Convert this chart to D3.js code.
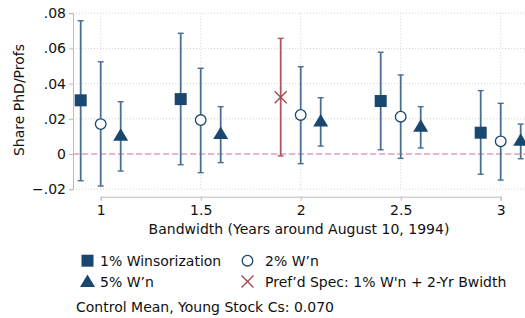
<!DOCTYPE html>
<html lang="en">
<head>
<meta charset="UTF-8">
<title>Bandwidth robustness</title>
<script src="https://d3js.org/d3.v7.min.js"></script>
<style>
  body { margin: 0; background: #fff; }
  text { font-family: "DejaVu Sans", Verdana, sans-serif; fill: #111; }
</style>
</head>
<body>
<script>
    // bandwidths (years)
    var bandwidths = [1, 1.5, 2, 2.5, 3];

    // 1% winsorization (no point at 2: shown as preferred spec)
    var w1 = [
        {bw: 1,   est: 0.0305, lo: -0.0152, hi: 0.0757},
        {bw: 1.5, est: 0.0312, lo: -0.0061, hi: 0.0686},
        {bw: 2.5, est: 0.0301, lo: 0.0024,  hi: 0.0578},
        {bw: 3,   est: 0.0121, lo: -0.0115, hi: 0.0360}
    ];
    // 2% winsorization
    var w2 = [
        {bw: 1,   est: 0.0170, lo: -0.0182, hi: 0.0524},
        {bw: 1.5, est: 0.0193, lo: -0.0106, hi: 0.0487},
        {bw: 2,   est: 0.0222, lo: -0.0055, hi: 0.0496},
        {bw: 2.5, est: 0.0212, lo: -0.0025, hi: 0.0449},
        {bw: 3,   est: 0.0072, lo: -0.0148, hi: 0.0288}
    ];
    // 5% winsorization
    var w5 = [
        {bw: 1,   est: 0.0106, lo: -0.0097, hi: 0.0297},
        {bw: 1.5, est: 0.0116, lo: -0.0049, hi: 0.0269},
        {bw: 2,   est: 0.0187, lo: 0.0045,  hi: 0.0320},
        {bw: 2.5, est: 0.0157, lo: 0.0034,  hi: 0.0269},
        {bw: 3,   est: 0.0078, lo: -0.0027, hi: 0.0170}
    ];
    // preferred spec: 1% W'n + 2-yr bandwidth
    var pref = [{bw: 2, est: 0.0322, lo: -0.0011, hi: 0.0657}];

    var yTicks = [-0.02, 0, 0.02, 0.04, 0.06, 0.08];
    var offsets = {w1: -0.1, w2: 0, w5: 0.1, pref: -0.1};

    var W = 525, H = 318;
    var navy = "#1a476f", barCol = "#4a6f96", red = "#a0434d", redBar = "#b0555e";
    var fs = "14px";

    var svg = d3.select("body").append("svg")
        .attr("width", W).attr("height", H);

    var x = d3.scaleLinear().domain([1, 3]).range([100.7, 500.7]);
    var y = d3.scaleLinear().domain([-0.02, 0.08]).range([189.2, 13.2]);

    var left = 73, right = 525;

    // gridlines
    svg.append("g").selectAll("line").data(yTicks).enter().append("line")
        .attr("x1", left).attr("x2", right)
        .attr("y1", d => y(d)).attr("y2", d => y(d))
        .attr("stroke", "#d4d4d4").attr("stroke-width", 1)
        .attr("stroke-dasharray", "1,2");
    svg.append("g").selectAll("line").data(bandwidths).enter().append("line")
        .attr("x1", d => x(d)).attr("x2", d => x(d))
        .attr("y1", y(0.08)).attr("y2", y(-0.02))
        .attr("stroke", "#d4d4d4").attr("stroke-width", 1)
        .attr("stroke-dasharray", "1,2");

    // axes
    var yAxis = svg.append("g")
        .attr("transform", "translate(" + left + ",0)")
        .call(d3.axisLeft(y).tickValues(yTicks).tickSize(4).tickPadding(3)
            .tickFormat(d => d === 0 ? "0" : d3.format(".2f")(d).replace("0.", ".")));
    yAxis.select(".domain").attr("stroke", "#bbb");
    yAxis.selectAll(".tick line").attr("stroke", "#bbb");
    yAxis.selectAll("text").style("font-size", fs).attr("fill", "#111");

    var xAxis = svg.append("g")
        .attr("transform", "translate(0," + 196.7 + ")")
        .call(d3.axisBottom(x).tickValues(bandwidths).tickSize(4).tickPadding(4)
            .tickFormat(d3.format("")));
    xAxis.select(".domain").attr("stroke", "#bbb");
    xAxis.selectAll(".tick line").attr("stroke", "#bbb");
    xAxis.selectAll("text").style("font-size", fs).attr("fill", "#111");

    // zero line
    svg.append("line")
        .attr("x1", left).attr("x2", right)
        .attr("y1", y(0)).attr("y2", y(0))
        .attr("stroke", "#e0a3c4").attr("stroke-width", 1.3)
        .attr("stroke-dasharray", "6,3");

    function bars(data, off, col) {
        var g = svg.append("g").attr("stroke", col).attr("stroke-width", 1.8);
        data.forEach(function(d) {
            var cx = x(d.bw + off);
            g.append("line").attr("x1", cx).attr("x2", cx)
                .attr("y1", y(d.lo)).attr("y2", y(d.hi));
            g.append("line").attr("x1", cx - 3).attr("x2", cx + 3)
                .attr("y1", y(d.lo)).attr("y2", y(d.lo)).attr("stroke-width", 1.4);
            g.append("line").attr("x1", cx - 3).attr("x2", cx + 3)
                .attr("y1", y(d.hi)).attr("y2", y(d.hi)).attr("stroke-width", 1.4);
        });
    }
    bars(w1, offsets.w1, barCol);
    bars(w2, offsets.w2, barCol);
    bars(w5, offsets.w5, barCol);
    bars(pref, offsets.pref, redBar);

    function square(g, cx, cy) {
        g.append("rect").attr("x", cx - 6).attr("y", cy - 6)
            .attr("width", 12).attr("height", 12).attr("fill", navy);
    }
    function circle(g, cx, cy) {
        g.append("circle").attr("cx", cx).attr("cy", cy).attr("r", 5.3)
            .attr("fill", "#fff").attr("stroke", navy).attr("stroke-width", 1.3);
    }
    function triangle(g, cx, cy) {
        g.append("path")
            .attr("d", "M" + cx + "," + (cy - 7) + "L" + (cx + 7.5) + "," + (cy + 5.5) +
                "L" + (cx - 7.5) + "," + (cy + 5.5) + "Z")
            .attr("fill", navy);
    }
    function cross(g, cx, cy) {
        g.append("path")
            .attr("d", "M" + (cx - 6) + "," + (cy - 6) + "L" + (cx + 6) + "," + (cy + 6) +
                "M" + (cx - 6) + "," + (cy + 6) + "L" + (cx + 6) + "," + (cy - 6))
            .attr("stroke", red).attr("stroke-width", 1.3).attr("fill", "none");
    }

    var marks = svg.append("g");
    w1.forEach(d => square(marks, x(d.bw + offsets.w1), y(d.est)));
    w2.forEach(d => circle(marks, x(d.bw + offsets.w2), y(d.est)));
    w5.forEach(d => triangle(marks, x(d.bw + offsets.w5), y(d.est)));
    pref.forEach(d => cross(marks, x(d.bw + offsets.pref), y(d.est)));

    // axis titles
    svg.append("text")
        .attr("x", 299).attr("y", 234)
        .attr("text-anchor", "middle").style("font-size", fs)
        .text("Bandwidth (Years around August 10, 1994)");
    svg.append("text")
        .attr("transform", "translate(24,100) rotate(-90)")
        .attr("text-anchor", "middle").style("font-size", fs)
        .text("Share PhD/Profs");

    // legend
    var lg = svg.append("g");
    square(lg, 87.5, 260.7);
    circle(lg, 247.5, 260.7);
    triangle(lg, 87.5, 281.5);
    cross(lg, 247.5, 281.5);
    var legendText = [
        {x: 100, y: 265.7, t: "1% Winsorization"},
        {x: 265, y: 265.7, t: "2% W\u2019n"},
        {x: 100, y: 286.5, t: "5% W\u2019n"},
        {x: 265, y: 286.5, t: "Pref\u2019d Spec: 1% W'n + 2-Yr Bwidth"}
    ];
    lg.selectAll("text.lt").data(legendText).enter().append("text")
        .attr("x", d => d.x).attr("y", d => d.y)
        .style("font-size", fs).text(d => d.t);

    svg.append("text")
        .attr("x", 76).attr("y", 312)
        .style("font-size", fs)
        .text("Control Mean, Young Stock Cs: 0.070");
</script>
</body>
</html>
